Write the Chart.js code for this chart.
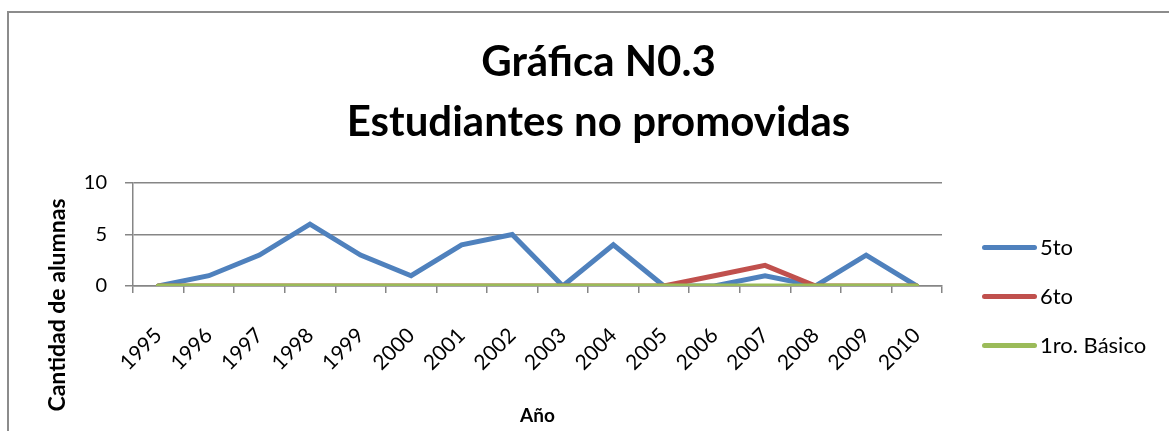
<!DOCTYPE html>
<html>
<head>
<meta charset="utf-8">
<script src="https://cdn.jsdelivr.net/npm/chart.js@4.4.1/dist/chart.umd.min.js"></script>
<style>
html, body { margin: 0; padding: 0; background: #fff; }
#wrap { position: relative; width: 1169px; height: 431px; overflow: hidden; }
#frame { position: absolute; left: 7px; top: 11px; right: -10px; bottom: -10px;
         border-left: 2px solid #8c8c8c; border-top: 2px solid #8c8c8c; }
canvas { position: absolute; left: 0; top: 0; }
#legend { position: absolute; left: 982px; top: 247px; font-family: Lato, sans-serif; font-size: 22px; color: #000; }
#legend .item { position: absolute; left: 0; height: 0; white-space: nowrap; }
#legend .swatch { position: absolute; left: 0; top: -2.5px; width: 55px; height: 5px; border-radius: 3px; }
#legend .txt { position: absolute; left: 58px; top: -14px; line-height: 28px; }
</style>
</head>
<body>
<div id="wrap">
  <div id="frame"></div>
  <canvas id="chart" width="1169" height="431"></canvas>
  <div id="legend"></div>
</div>
<script>
// Data
const years = ['1995', '1996', '1997', '1998', '1999', '2000', '2001', '2002',
               '2003', '2004', '2005', '2006', '2007', '2008', '2009', '2010'];
const quinto  = [0, 1, 3, 6, 3, 1, 4, 5, 0, 4, 0, 0, 1, 0, 3, 0];
const sexto   = [0, 0, 0, 0, 0, 0, 0, 0, 0, 0, 0, 1, 2, 0, 0, 0];
const primero = [0, 0, 0, 0, 0, 0, 0, 0, 0, 0, 0, 0, 0, 0, 0, 0];
const yTicks = [0, 5, 10];

const titleLines = ['Gráfica N0.3', 'Estudiantes no promovidas'];
const xTitle = 'Año';
const yTitle = 'Cantidad de alumnas';

const FONT = 'Lato';
const GRID = '#868686';
const PAD_LEFT = 36;
const PAD_RIGHT = 8;
const PLOT_RIGHT = 942;   // right edge of the plot area
const PLOT_BOTTOM = 286;  // bottom edge of the plot area
const LEGEND_STEP = 49;

// y axis title is centred on the whole lower block, like Excel does
const yTitlePlugin = {
    id: 'yTitle',
    afterDraw(chart) {
        const { ctx, chartArea } = chart;
        ctx.save();
        ctx.translate(58, (chartArea.top + chart.height) / 2 - 2);
        ctx.rotate(-Math.PI / 2);
        ctx.font = 'bold 23px ' + FONT;
        ctx.textAlign = 'center';
        ctx.textBaseline = 'middle';
        ctx.fillStyle = '#000';
        ctx.fillText(yTitle, 0, 0);
        ctx.restore();
    }
};

const ctx = document.getElementById('chart').getContext('2d');
const chart = new Chart(ctx, {
    type: 'line',
    data: {
        labels: years,
        datasets: [
            { label: '5to', data: quinto, borderColor: '#4F81BD', order: 3 },
            { label: '6to', data: sexto, borderColor: '#C0504D', order: 2 },
            { label: '1ro. Básico', data: primero, borderColor: '#9BBB59', order: 1 }
        ].map(d => Object.assign(d, {
            backgroundColor: d.borderColor,
            borderWidth: 5,
            pointRadius: 0,
            pointHoverRadius: 0,
            tension: 0,
            fill: false,
            borderCapStyle: 'round'
        }))
    },
    options: {
        responsive: false,
        animation: false,
        layout: { padding: { left: PAD_LEFT, top: 32, right: PAD_RIGHT, bottom: 0 } },
        plugins: {
            tooltip: { enabled: false },
            legend: { display: false },
            title: {
                display: true,
                text: titleLines,
                color: '#000',
                font: { family: FONT, size: 42, weight: 'bold', lineHeight: 1.44 },
                padding: { top: 0, bottom: 30 }
            }
        },
        scales: {
            x: {
                offset: true,
                afterFit: (scale) => { scale.height = 431 - PLOT_BOTTOM; },
                grid: { offset: true, drawOnChartArea: false, color: GRID, lineWidth: 1.5, tickLength: 7 },
                border: { color: GRID, width: 1.5 },
                ticks: {
                    color: '#000',
                    font: { family: FONT, size: 21 },
                    minRotation: 45,
                    maxRotation: 45,
                    padding: 30
                },
                title: {
                    display: true,
                    text: xTitle,
                    color: '#000',
                    font: { family: FONT, size: 19, weight: 'bold' },
                    padding: { top: 6, bottom: 4 }
                }
            },
            y: {
                min: 0,
                max: 10,
                afterBuildTicks: (scale) => { scale.ticks = yTicks.map(v => ({ value: v })); },
                afterFit: (scale) => { scale.width = 133 - PAD_LEFT; },
                grid: { color: GRID, lineWidth: 1.5, tickLength: 8 },
                border: { color: GRID, width: 1.5 },
                ticks: {
                    color: '#000',
                    font: { family: FONT, size: 20 },
                    padding: 18
                }
            },
            // empty axis that keeps room for the legend on the right
            legendSpace: {
                position: 'right',
                grid: { display: false },
                border: { display: false },
                ticks: { display: false },
                afterFit: (scale) => { scale.width = 1169 - PAD_RIGHT - PLOT_RIGHT; }
            }
        }
    },
    plugins: [yTitlePlugin]
});

// Legend built from the chart's datasets
const legendBox = document.getElementById('legend');
chart.data.datasets.forEach((ds, i) => {
    const item = document.createElement('div');
    item.className = 'item';
    item.style.top = (i * LEGEND_STEP) + 'px';
    const sw = document.createElement('div');
    sw.className = 'swatch';
    sw.style.background = ds.borderColor;
    const tx = document.createElement('div');
    tx.className = 'txt';
    tx.textContent = ds.label;
    item.appendChild(sw);
    item.appendChild(tx);
    legendBox.appendChild(item);
});
</script>
</body>
</html>
